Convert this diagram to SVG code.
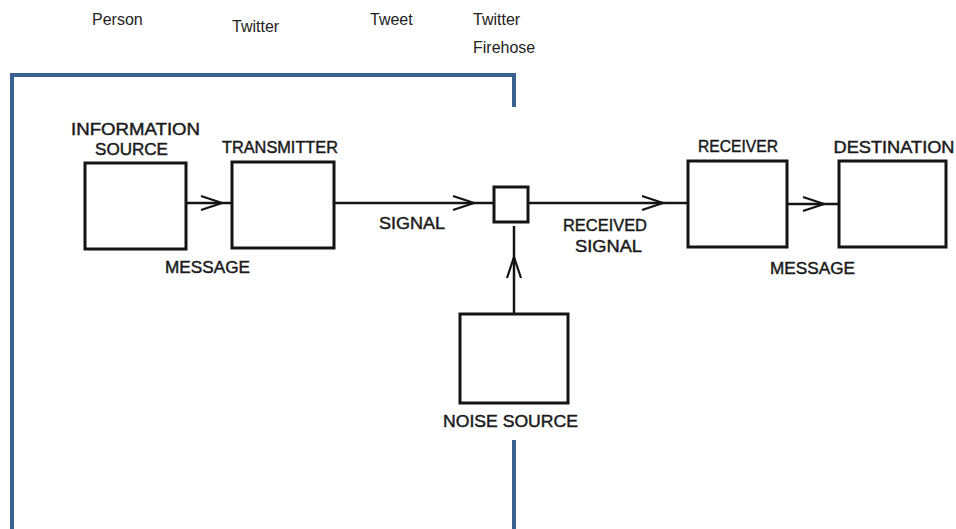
<svg xmlns="http://www.w3.org/2000/svg" width="956" height="529" viewBox="0 0 956 529">
  <style>
    .caption { font-family: "Liberation Sans", Arial, sans-serif; font-size: 16px; fill: #222; }
    .label { font-family: "Liberation Sans", Arial, sans-serif; font-size: 17px; fill: #1a1a1a; stroke: #1a1a1a; stroke-width: 0.45; text-anchor: middle; }
    .box { fill: #fff; stroke: #141414; stroke-width: 3; }
    .wire { fill: none; stroke: #141414; stroke-width: 2.5; marker-mid: url(#chevron); }
    .frame { fill: none; stroke: #3b6190; stroke-width: 4; }
  </style>
  <defs>
    <!-- open chevron placed on the inner vertex of each wire -->
    <marker id="chevron" markerUnits="userSpaceOnUse" markerWidth="30" markerHeight="24" viewBox="-24 -12 30 24" refX="0" refY="0" orient="auto" overflow="visible">
      <path d="M-21,-7 L0,0 L-21,7" fill="none" stroke="#141414" stroke-width="2.2" stroke-linejoin="miter"/>
    </marker>
  </defs>

  <rect width="956" height="529" fill="#fff"/>

  <!-- column captions -->
  <g id="captions">
    <text class="caption" x="92" y="25">Person</text>
    <text class="caption" x="232" y="32">Twitter</text>
    <text class="caption" x="370" y="25">Tweet</text>
    <text class="caption" x="473" y="25">Twitter</text>
    <text class="caption" x="473" y="53">Firehose</text>
  </g>

  <!-- bracket around the sending side -->
  <g id="frame">
    <path class="frame" d="M12,529 L12,75 L514,75 L514,107"/>
    <path class="frame" d="M514,440 L514,529"/>
  </g>

  <!-- connectors -->
  <g id="connectors">
    <path class="wire" d="M186,203 L222,203 L232,203"/>
    <path class="wire" d="M334,203 L474,203 L494,203"/>
    <path class="wire" d="M528,203 L663,203 L688,203"/>
    <path class="wire" d="M787,204 L824,204 L839,204"/>
    <path class="wire" d="M514,314 L514,257 L514,226"/>
  </g>

  <g id="information-source">
    <rect class="box" x="85" y="163" width="101" height="86"/>
    <text class="label" x="135.5" y="135" textLength="129" lengthAdjust="spacingAndGlyphs">INFORMATION</text>
    <text class="label" x="131.5" y="155" textLength="73" lengthAdjust="spacingAndGlyphs">SOURCE</text>
    <text class="label" x="207.5" y="273" textLength="85" lengthAdjust="spacingAndGlyphs">MESSAGE</text>
  </g>

  <g id="transmitter">
    <rect class="box" x="232" y="162" width="102" height="86"/>
    <text class="label" x="280" y="153" textLength="116" lengthAdjust="spacingAndGlyphs">TRANSMITTER</text>
    <text class="label" x="412" y="229" textLength="66" lengthAdjust="spacingAndGlyphs">SIGNAL</text>
  </g>

  <g id="channel">
    <rect class="box" x="494" y="187" width="34" height="35"/>
    <text class="label" x="605" y="231" textLength="84" lengthAdjust="spacingAndGlyphs">RECEIVED</text>
    <text class="label" x="608.5" y="252" textLength="67" lengthAdjust="spacingAndGlyphs">SIGNAL</text>
  </g>

  <g id="receiver">
    <rect class="box" x="688" y="161" width="99" height="86"/>
    <text class="label" x="738" y="152" textLength="80" lengthAdjust="spacingAndGlyphs">RECEIVER</text>
    <text class="label" x="812.5" y="274" textLength="85" lengthAdjust="spacingAndGlyphs">MESSAGE</text>
  </g>

  <g id="destination">
    <rect class="box" x="839" y="161" width="107" height="86"/>
    <text class="label" x="894" y="153" textLength="121" lengthAdjust="spacingAndGlyphs">DESTINATION</text>
  </g>

  <g id="noise-source">
    <rect class="box" x="460" y="314" width="108" height="89"/>
    <text class="label" x="510.5" y="427" textLength="135" lengthAdjust="spacingAndGlyphs">NOISE SOURCE</text>
  </g>
</svg>
